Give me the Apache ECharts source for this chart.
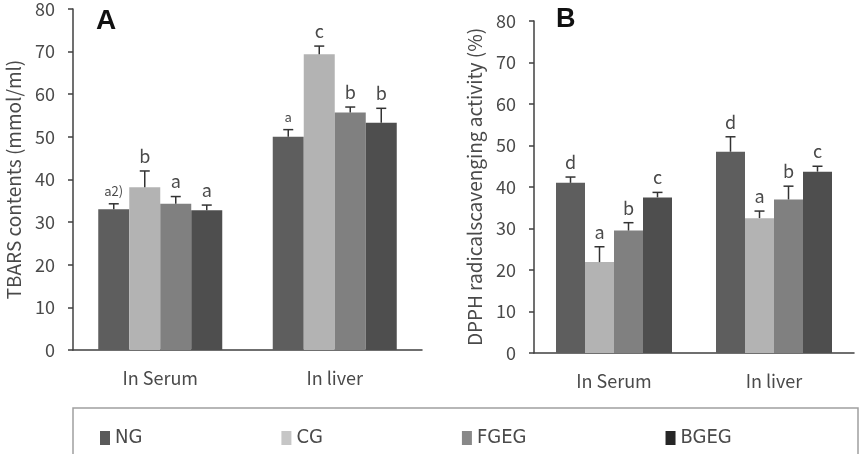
<!DOCTYPE html>
<html>
<head>
<meta charset="utf-8">
<script src="https://cdn.jsdelivr.net/npm/echarts@6/dist/echarts.min.js"></script>
<style>
  html, body { margin: 0; padding: 0; background: #fff; }
  #chart { width: 861px; height: 454px; }
</style>
</head>
<body>
<div id="chart"></div>
<script>
// categories and groups
var places = ['In Serum', 'In liver'];
var groups = ['NG', 'CG', 'FGEG', 'BGEG'];

// A: TBARS contents (mmol/ml), [serum, liver]
var tbarsNG = [33.0, 50.0];
var tbarsCG = [38.2, 69.4];
var tbarsFGEG = [34.3, 55.7];
var tbarsBGEG = [32.8, 53.3];
var tbarsErrNG = [1.3, 1.7];
var tbarsErrCG = [3.8, 1.9];
var tbarsErrFGEG = [1.7, 1.3];
var tbarsErrBGEG = [1.2, 3.4];
var tbarsLetNG = ['a2)', 'a'];
var tbarsLetCG = ['b', 'c'];
var tbarsLetFGEG = ['a', 'b'];
var tbarsLetBGEG = ['a', 'b'];

// B: DPPH radical scavenging activity (%), [serum, liver]
var dpphNG = [41.0, 48.5];
var dpphCG = [21.9, 32.5];
var dpphFGEG = [29.5, 37.0];
var dpphBGEG = [37.5, 43.7];
var dpphErrNG = [1.4, 3.6];
var dpphErrCG = [3.7, 1.7];
var dpphErrFGEG = [1.9, 3.2];
var dpphErrBGEG = [1.2, 1.3];
var dpphLetNG = ['d', 'd'];
var dpphLetCG = ['a', 'a'];
var dpphLetFGEG = ['b', 'b'];
var dpphLetBGEG = ['c', 'c'];

var yTicks = [0, 10, 20, 30, 40, 50, 60, 70, 80];

var barColors = ['#5e5e5e', '#b3b3b3', '#808080', '#4e4e4e'];
var legendColors = ['#5a5a5a', '#c6c6c6', '#888888', '#262626'];
var txtColor = '#4a4a4a';
var font = '"Noto Sans CJK KR", "Noto Sans", sans-serif';

var chart = echarts.init(document.getElementById('chart'));

function makeAxes(idx, name) {
    var x = {
        type: 'category', gridIndex: idx, data: places,
        axisLine: { lineStyle: { color: '#404040', width: 1.5 } },
        axisTick: { inside: true, length: 5, lineStyle: { color: '#404040', width: 1.5 } },
        axisLabel: { color: txtColor, fontSize: 18, fontFamily: font, margin: 19 }
    };
    var y = {
        type: 'value', gridIndex: idx, min: 0, max: yTicks[yTicks.length - 1], interval: 10,
        name: name, nameLocation: 'middle', nameGap: 50,
        nameTextStyle: { color: txtColor, fontSize: 19, fontFamily: font },
        splitLine: { show: false },
        axisLine: { show: true, lineStyle: { color: '#404040', width: 1.5 } },
        axisTick: { show: true, length: 5, lineStyle: { color: '#404040', width: 1.5 } },
        axisLabel: { color: txtColor, fontSize: 18, fontFamily: font, margin: 18 }
    };
    return [x, y];
}

// error bar + letter drawn over each bar
function errSeries(idx, k, vals, errs, lets, bw) {
    var data = vals.map(function (v, i) { return [i, v, errs[i], lets[i]]; });
    return {
        type: 'custom', xAxisIndex: idx, yAxisIndex: idx, silent: true, z: 5,
        data: data,
        renderItem: function (params, api) {
            var off = (k - 1.5) * bw;
            var base = api.coord([api.value(0), api.value(1)]);
            var top = api.coord([api.value(0), api.value(1) + api.value(2)]);
            var cx = base[0] + off;
            var lab = data[params.dataIndex][3];
            var small = (lab === 'a2)' || (idx === 0 && params.dataIndex === 1 && k === 0));
            return {
                type: 'group',
                children: [
                    { type: 'line', shape: { x1: cx, y1: base[1], x2: cx, y2: top[1] },
                      style: { stroke: '#333', lineWidth: 1.5 } },
                    { type: 'line', shape: { x1: cx - 5, y1: top[1], x2: cx + 5, y2: top[1] },
                      style: { stroke: '#333', lineWidth: 1.5 } },
                    { type: 'text', x: cx, y: top[1] - 6,
                      style: { text: lab, textAlign: 'center', textVerticalAlign: 'bottom',
                               fontSize: small ? 13 : 18, fontFamily: font, fill: txtColor } }
                ]
            };
        }
    };
}

var axA = makeAxes(0, 'TBARS contents (mmol/ml)');
var axB = makeAxes(1, 'DPPH radicalscavenging activity (%)');

var aVals = [tbarsNG, tbarsCG, tbarsFGEG, tbarsBGEG];
var aErrs = [tbarsErrNG, tbarsErrCG, tbarsErrFGEG, tbarsErrBGEG];
var aLets = [tbarsLetNG, tbarsLetCG, tbarsLetFGEG, tbarsLetBGEG];
var bVals = [dpphNG, dpphCG, dpphFGEG, dpphBGEG];
var bErrs = [dpphErrNG, dpphErrCG, dpphErrFGEG, dpphErrBGEG];
var bLets = [dpphLetNG, dpphLetCG, dpphLetFGEG, dpphLetBGEG];

var series = [];
groups.forEach(function (g, k) {
    series.push({ name: g, type: 'bar', xAxisIndex: 0, yAxisIndex: 0, data: aVals[k],
        barWidth: 31, barGap: '0%', itemStyle: { color: barColors[k] } });
    series.push({ name: g, type: 'bar', xAxisIndex: 1, yAxisIndex: 1, data: bVals[k],
        barWidth: 29, barGap: '0%', itemStyle: { color: barColors[k] } });
});
groups.forEach(function (g, k) {
    series.push(errSeries(0, k, aVals[k], aErrs[k], aLets[k], 31));
    series.push(errSeries(1, k, bVals[k], bErrs[k], bLets[k], 29));
});

chart.setOption({
    animation: false,
    backgroundColor: '#fff',
    grid: [
        { left: 73, top: 6, width: 349, height: 344 },
        { left: 534, top: 21, width: 320, height: 332 }
    ],
    xAxis: [axA[0], axB[0]],
    yAxis: [axA[1], axB[1]],
    legend: {
        left: 95, top: 423, itemWidth: 10, itemHeight: 14, itemGap: 139, itemTextGap: 13,
        icon: 'rect',
        textStyle: { color: txtColor, fontSize: 20, fontFamily: '"Liberation Sans Narrow", "DejaVu Sans Condensed", sans-serif' },
        data: groups.map(function (g, k) {
            return { name: g, itemStyle: { color: legendColors[k] } };
        })
    },
    graphic: [
        { type: 'rect', shape: { x: 73, y: 408, width: 785, height: 60 },
          style: { fill: 'none', stroke: '#a0a0a0', lineWidth: 1.5 } },
        { type: 'text', x: 96, y: 7,
          style: { text: 'A', font: 'bold 28px "Liberation Sans", Arial', fill: '#111' } },
        { type: 'text', x: 556, y: 6,
          style: { text: 'B', font: 'bold 27px "Liberation Sans", Arial', fill: '#111' } }
    ],
    series: series
});
</script>
</body>
</html>
